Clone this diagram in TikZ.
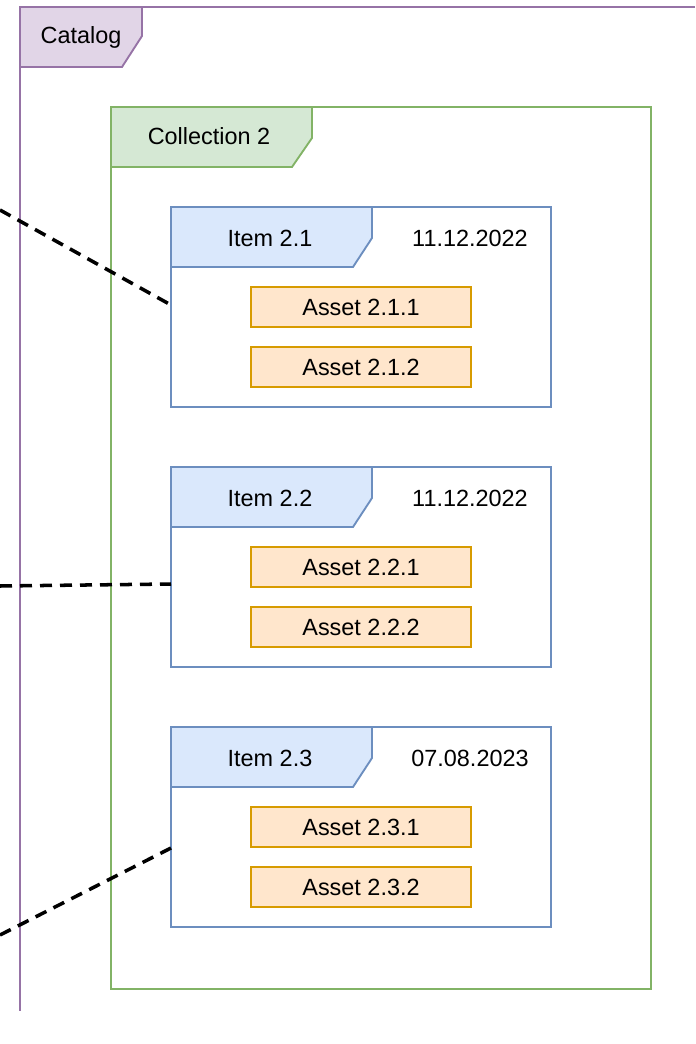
\documentclass[tikz,border=0pt]{standalone}
\usepackage{fontspec}
\setmainfont{Liberation Sans}
\usetikzlibrary{calc}
\definecolor{catfill}{HTML}{E1D5E7}\definecolor{catline}{HTML}{9673A6}
\definecolor{colfill}{HTML}{D5E8D4}\definecolor{colline}{HTML}{82B366}
\definecolor{itemfill}{HTML}{DAE8FC}\definecolor{itemline}{HTML}{6C8EBF}
\definecolor{assetfill}{HTML}{FFE6CC}\definecolor{assetline}{HTML}{D79B00}
\def\u{0.03cm}
\tikzset{
	itembox/.style={draw=itemline, line width=1.6pt, anchor=north west, minimum width=380*\u, minimum height=200*\u, inner sep=0pt, outer sep=0pt},
	assetbox/.style={draw=assetline, fill=assetfill, line width=1.6pt, minimum width=220*\u, minimum height=40*\u, inner sep=0pt, outer sep=0pt},
	link/.style={line width=3pt, dash pattern=on 12*\u off 8*\u},
	lbl/.style={font=\fontsize{20}{24}\selectfont, inner sep=0pt}
}
\begin{document}
\begin{tikzpicture}[x=\u, y=-\u]
			%%%%% START %%%%%
			\useasboundingbox (0,0) rectangle (695,1044);
			
			%% catalog
			\draw[catline, line width=1.6pt] (695,7) -- (20,7) -- (20,1011);
			\draw[catline, fill=catfill, line width=1.6pt] (20,7) -- (142,7) -- (142,36) -- (122,67) -- (20,67) -- cycle;
			\node[lbl] (catalog) at (81,37) {Catalog};
			
			%% collection
			\node[draw=colline, line width=1.6pt, anchor=north west, minimum width=540*\u, minimum height=882*\u, inner sep=0pt, outer sep=0pt] (coll) at (111,107) {};
			\draw[colline, fill=colfill, line width=1.6pt] (111,107) -- (312,107) -- (312,138) -- (292,167) -- (111,167) -- cycle;
			\node[lbl] (colltitle) at (209,136) {Collection 2};
			
			%% item 2.1
			\node[itembox] (item21) at (171,207) {};
			\draw[itemline, fill=itemfill, line width=1.6pt] (171,207) -- (372,207) -- (372,238) -- (353,267) -- (171,267) -- cycle;
			\node[lbl] (item21t) at (270,238) {Item 2.1};
			\node[lbl] (item21d) at (470,238) {11.12.2022};
			\node[assetbox, lbl] (a211) at (361,307) {Asset 2.1.1};
			\node[assetbox, lbl] (a212) at (361,367) {Asset 2.1.2};
			
			%% item 2.2
			\node[itembox] (item22) at (171,467) {};
			\draw[itemline, fill=itemfill, line width=1.6pt] (171,467) -- (372,467) -- (372,498) -- (353,527) -- (171,527) -- cycle;
			\node[lbl] (item22t) at (270,498) {Item 2.2};
			\node[lbl] (item22d) at (470,498) {11.12.2022};
			\node[assetbox, lbl] (a221) at (361,567) {Asset 2.2.1};
			\node[assetbox, lbl] (a222) at (361,627) {Asset 2.2.2};
			
			%% item 2.3
			\node[itembox] (item23) at (171,727) {};
			\draw[itemline, fill=itemfill, line width=1.6pt] (171,727) -- (372,727) -- (372,758) -- (353,787) -- (171,787) -- cycle;
			\node[lbl] (item23t) at (270,758) {Item 2.3};
			\node[lbl] (item23d) at (470,758) {07.08.2023};
			\node[assetbox, lbl] (a231) at (361,827) {Asset 2.3.1};
			\node[assetbox, lbl] (a232) at (361,887) {Asset 2.3.2};
			
			%% links
			\coordinate (from21) at (0,210);
			\coordinate (from22) at (0,586);
			\coordinate (from23) at (0,935);
			\coordinate (to21) at (171,305);
			\coordinate (to22) at (171,584);
			\coordinate (to23) at (171,848);
			\draw[link] (from21) -- (to21);
			\draw[link] (from22) -- (to22);
			\draw[link] (from23) -- (to23);
			%%%%% END %%%%%
\end{tikzpicture}
\end{document}
